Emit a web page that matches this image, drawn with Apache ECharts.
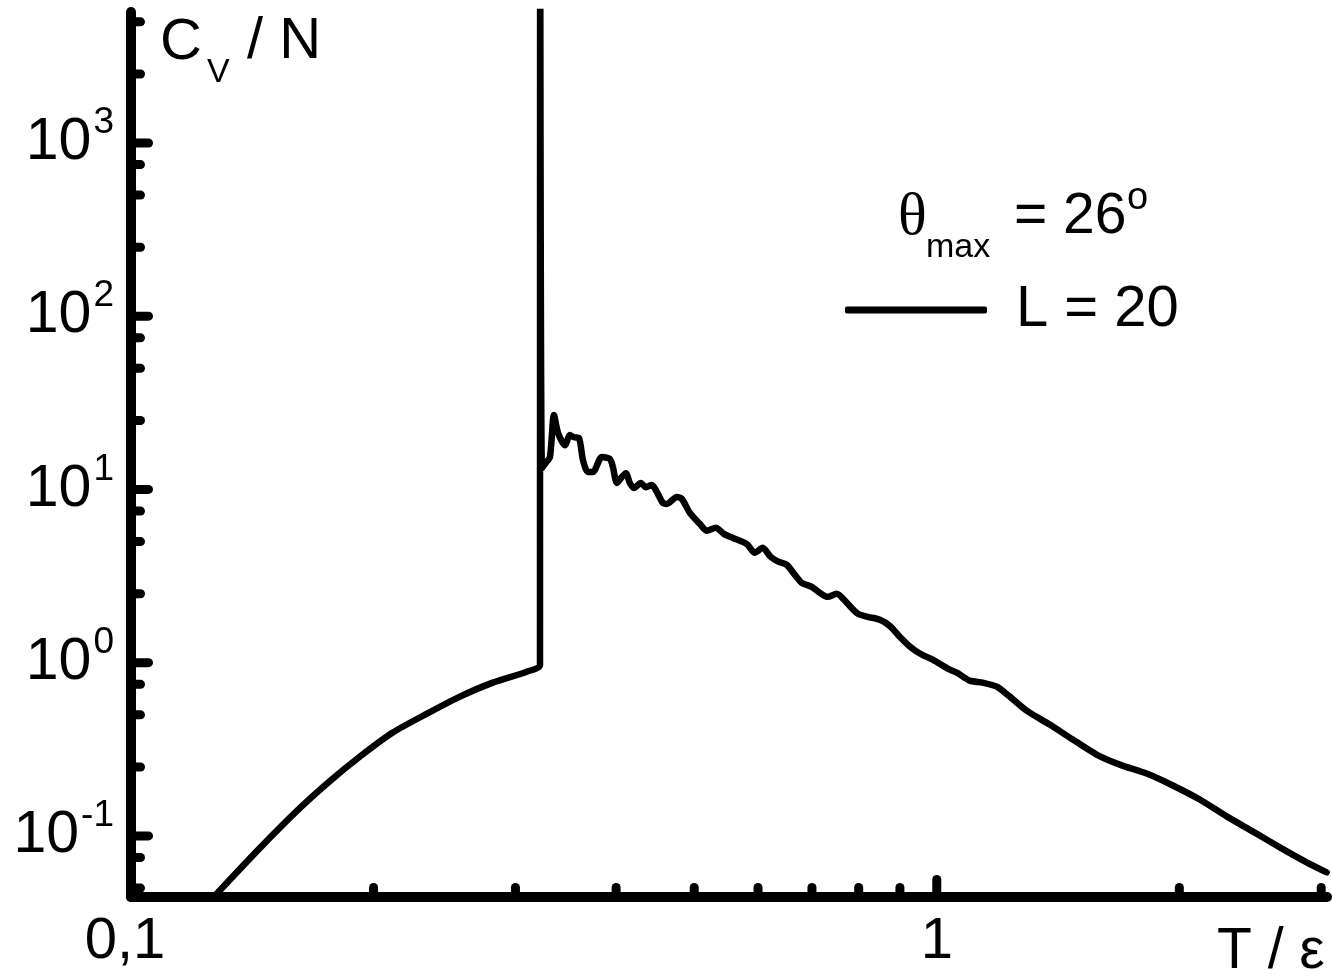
<!DOCTYPE html>
<html><head><meta charset="utf-8">
<script src="https://cdn.jsdelivr.net/npm/echarts@6/dist/echarts.min.js"></script>
<style>html,body{margin:0;padding:0;background:#fff}#c{width:1332px;height:978px}</style>
</head><body><div id="c"></div>
<script>
// ---- data ----
const tempT = [
  0.1265, 0.1282, 0.1446, 0.1621, 0.1766, 0.1924, 0.2113, 0.2330, 0.2560, 0.2812, 0.3099, 0.3218,
  0.3219, 0.3236, 0.3270, 0.3311, 0.3349, 0.3388, 0.3456, 0.3506, 0.3546, 0.3597, 0.3638, 0.3690,
  0.3743, 0.3840, 0.3929, 0.3963, 0.4009, 0.4066, 0.4113, 0.4160, 0.4208, 0.4293, 0.4355, 0.4430,
  0.4494, 0.4571, 0.4624, 0.4758, 0.4827, 0.4938, 0.5081, 0.5184, 0.5318, 0.5441, 0.5583, 0.5744,
  0.5826, 0.5944, 0.6082, 0.6222, 0.6366, 0.6514, 0.6664, 0.6799, 0.6996, 0.7158, 0.7323, 0.7513,
  0.7730, 0.7978, 0.8209, 0.8499, 0.8745, 0.8997, 0.9258, 0.9526, 0.9886, 1.032, 1.059, 1.099,
  1.140, 1.187, 1.232, 1.293, 1.381, 1.475, 1.579, 1.687, 1.822, 1.963, 2.120, 2.290,
  2.466, 2.665, 2.878, 3.047
];
const heatCv = [
  0.0440, 0.0472, 0.0853, 0.1450, 0.2075, 0.2872, 0.395, 0.508, 0.637, 0.767, 0.887, 0.974,
  60000, 13.3, 14.2, 15.4, 26.9, 21.2, 18.0, 20.6, 20.0, 19.8, 14.8, 12.6,
  12.6, 15.4, 15.0, 13.5, 10.9, 11.8, 12.4, 10.9, 10.2, 10.9, 10.3, 10.6,
  9.67, 8.36, 8.25, 9.05, 8.82, 7.32, 6.33, 5.77, 6.00, 5.54, 5.25, 4.98,
  4.79, 4.31, 4.60, 4.08, 3.82, 3.67, 3.22, 2.89, 2.74, 2.53, 2.40, 2.50,
  2.22, 1.92, 1.84, 1.77, 1.63, 1.41, 1.24, 1.13, 1.04, 0.923, 0.876, 0.788,
  0.767, 0.727, 0.637, 0.529, 0.439, 0.360, 0.295, 0.258, 0.229, 0.1955, 0.1623, 0.1296,
  0.1062, 0.0859, 0.0704, 0.0616
];
const seriesName = 'L = 20';
const xMajorTicks = [0.1, 1];
const xMinorTicks = [0.2, 0.3, 0.4, 0.5, 0.6, 0.7, 0.8, 0.9, 2, 3];
const yMajorTicks = [0.1, 1, 10, 100, 1000];
const yMinorTicks = [0.05, 0.075, 0.25, 0.5, 0.75, 2.5, 5, 7.5, 25, 50, 75, 250, 500, 750, 2500, 5000];
const xTickLabels = [[0.1, '0,1'], [1, '1']];
const X_MIN = 0.1, X_MAX = 3.05, Y_MIN = 0.0444, Y_MAX = 5700;

// ---- chart ----
const FONT = '"Liberation Sans", Arial, sans-serif';
const SERIF = '"Liberation Serif", "Times New Roman", serif';
const chart = echarts.init(document.getElementById('c'), null, {renderer: 'canvas'});

function near(a, b) { return Math.abs(Math.log10(a) - Math.log10(b)) < 1e-6; }

function tickSeries(values, major, isX) {
  return {
    type: 'custom', coordinateSystem: 'cartesian2d', silent: true, z: 5, clip: false,
    data: values.map(v => isX ? [v, Y_MIN] : [X_MIN, v]),
    renderItem: function (params, api) {
      const p = api.coord([api.value(0), api.value(1)]);
      const len = major ? 17.5 : 9.5;
      const shape = isX ? {x1: p[0], y1: p[1], x2: p[0], y2: p[1] - len}
                        : {x1: p[0], y1: p[1], x2: p[0] + len, y2: p[1]};
      return {type: 'line', shape: shape, style: {stroke: '#000', lineWidth: 9, lineCap: 'round'}};
    }
  };
}

const option = {
  backgroundColor: '#fff',
  animation: false,
  grid: {left: 131, right: 5, top: 12, bottom: 81, containLabel: false, outerBoundsMode: 'none'},
  xAxis: {
    type: 'log', logBase: 10, min: X_MIN, max: X_MAX,
    splitLine: {show: false}, axisTick: {show: false}, minorTick: {show: false},
    axisLine: {onZero: false, lineStyle: {color: '#000', width: 10, cap: 'round'}},
    axisLabel: {
      margin: 16, color: '#000', fontFamily: FONT, fontSize: 58, lineHeight: 58,
      showMinLabel: true, showMaxLabel: true,
      formatter: function (v) {
        for (const [t, s] of xTickLabels) {
          if (near(v, t)) return t === 0.1 ? '{l|' + s + '}' : s;
        }
        return '';
      },
      rich: {l: {fontFamily: FONT, fontSize: 58, padding: [0, 12, 0, 0]}}
    }
  },
  yAxis: {
    type: 'log', logBase: 10, min: Y_MIN, max: Y_MAX,
    splitLine: {show: false}, axisTick: {show: false}, minorTick: {show: false},
    axisLine: {onZero: false, lineStyle: {color: '#000', width: 10, cap: 'round'}},
    axisLabel: {
      margin: 17, color: '#000', fontFamily: FONT,
      showMinLabel: true, showMaxLabel: true,
      formatter: function (v) {
        const e = Math.round(Math.log10(v));
        for (const t of yMajorTicks) {
          if (near(v, t)) return '{b|10}{s|' + e + '}';
        }
        return '';
      },
      rich: {
        b: {fontFamily: FONT, fontSize: 59, lineHeight: 80, color: '#000'},
        s: {fontFamily: FONT, fontSize: 37, lineHeight: 80, padding: [0, 0, 40, 2], color: '#000'}
      }
    }
  },
  legend: {
    data: [seriesName], left: 845, top: 280, padding: 0, selectedMode: false,
    icon: 'roundRect', itemWidth: 142, itemHeight: 7,
    itemStyle: {color: '#000'},
    textStyle: {fontFamily: FONT, fontSize: 58, lineHeight: 60, color: '#000', padding: [0, 0, 0, 24]}
  },
  graphic: [
    {type: 'text', x: 160, y: 43, style: {text: 'C', fontFamily: FONT, fontSize: 58, fill: '#000', align: 'left', verticalAlign: 'middle'}},
    {type: 'text', x: 207, y: 72.5, style: {text: 'V', fontFamily: FONT, fontSize: 34, fill: '#000', align: 'left', verticalAlign: 'middle'}},
    {type: 'text', x: 247, y: 42, style: {text: '/ N', fontFamily: FONT, fontSize: 58, fill: '#000', align: 'left', verticalAlign: 'middle'}},
    {type: 'text', x: 1217, y: 952, style: {text: 'T / ε', fontFamily: FONT, fontSize: 57, fill: '#000', align: 'left', verticalAlign: 'middle'}},
    {type: 'text', x: 898, y: 218.6, style: {text: 'θ', fontFamily: SERIF, fontSize: 60, fill: '#000', align: 'left', verticalAlign: 'middle'}},
    {type: 'text', x: 926, y: 247.5, style: {text: 'max', fontFamily: FONT, fontSize: 34, fill: '#000', align: 'left', verticalAlign: 'middle'}},
    {type: 'text', x: 1014, y: 217.3, style: {text: '= 26', fontFamily: FONT, fontSize: 57, fill: '#000', align: 'left', verticalAlign: 'middle'}},
    {type: 'text', x: 1127, y: 199, style: {text: 'o', fontFamily: FONT, fontSize: 38, fill: '#000', align: 'left', verticalAlign: 'middle'}}
  ],
  series: [
    {
      name: seriesName, type: 'line', showSymbol: false, symbol: 'none', clip: true,
      smooth: 0.25,
      data: tempT.map((t, i) => [t, heatCv[i]]),
      lineStyle: {color: '#000', width: 6.5, join: 'round', cap: 'round'},
      itemStyle: {color: '#000'}, z: 3
    },
    tickSeries(xMajorTicks, true, true),
    tickSeries(xMinorTicks, false, true),
    tickSeries(yMajorTicks, true, false),
    tickSeries(yMinorTicks, false, false)
  ]
};
chart.setOption(option);
</script>
</body></html>
